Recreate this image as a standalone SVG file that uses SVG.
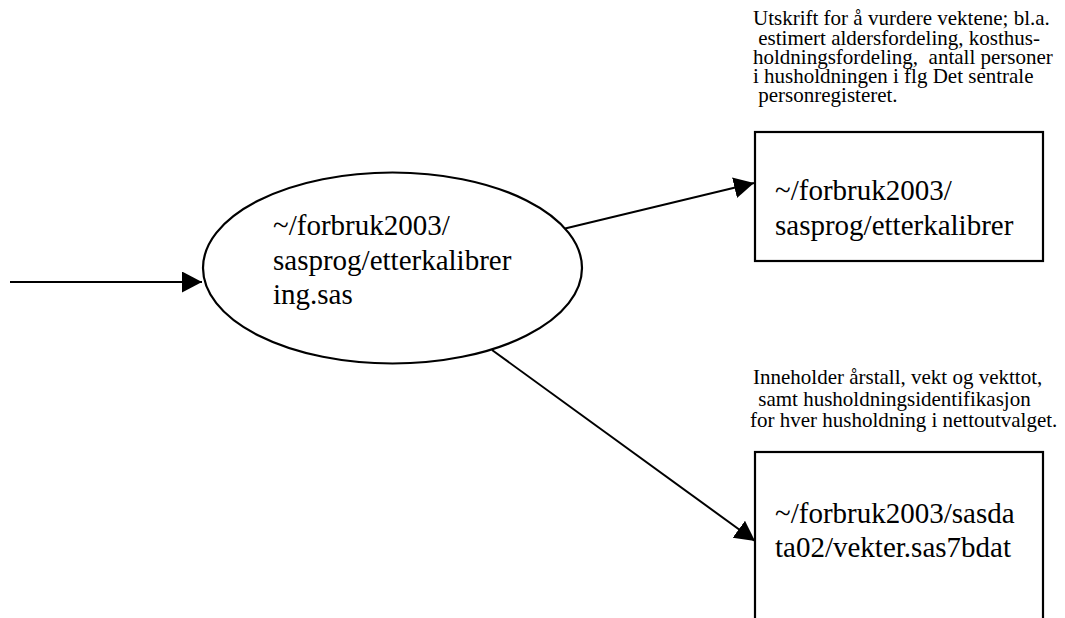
<svg xmlns="http://www.w3.org/2000/svg" width="1065" height="618" viewBox="0 0 1065 618">
  <style>
    .shape { fill: #ffffff; stroke: #000000; stroke-width: 2.2; }
    .conn { fill: none; stroke: #000000; stroke-width: 2; }
    .lbl { font-family: "Liberation Serif", "Times New Roman", serif; font-size: 29px; fill: #000000; }
    .note { font-family: "Liberation Serif", "Times New Roman", serif; font-size: 21px; fill: #000000; white-space: pre; }
  </style>
  <defs>
    <marker id="arrow" markerUnits="userSpaceOnUse" markerWidth="22" markerHeight="22" refX="20" refY="10.5" orient="auto">
      <path d="M0,0 L20,10.5 L0,21 z" fill="#000000"/>
    </marker>
  </defs>
  <rect x="0" y="0" width="1065" height="618" fill="#ffffff"/>

  <g id="connectors">
    <line class="conn" x1="10" y1="282" x2="202" y2="282" marker-end="url(#arrow)"/>
    <line class="conn" x1="563" y1="229" x2="754" y2="183" marker-end="url(#arrow)"/>
    <line class="conn" x1="492" y1="350" x2="755" y2="541" marker-end="url(#arrow)"/>
  </g>

  <g id="program">
    <ellipse class="shape" cx="392.5" cy="268" rx="189.5" ry="95.5"/>
    <text class="lbl" x="273" y="235">~/forbruk2003/</text>
    <text class="lbl" x="273" y="270">sasprog/etterkalibrer</text>
    <text class="lbl" x="273" y="304">ing.sas</text>
  </g>

  <g id="output-listing">
    <rect class="shape" x="755" y="132" width="288" height="129"/>
    <text class="lbl" x="775" y="200">~/forbruk2003/</text>
    <text class="lbl" x="775" y="235">sasprog/etterkalibrer</text>
  </g>

  <g id="note-listing">
    <text class="note" x="753" y="25">Utskrift for å vurdere vektene; bl.a.</text>
    <text class="note" x="753" y="45"> estimert aldersfordeling, kosthus-</text>
    <text class="note" x="753" y="64">holdningsfordeling,  antall personer</text>
    <text class="note" x="753" y="83">i husholdningen i flg Det sentrale</text>
    <text class="note" x="753" y="102"> personregisteret.</text>
  </g>

  <g id="output-weights">
    <rect class="shape" x="755" y="452" width="288" height="200"/>
    <text class="lbl" x="775" y="523">~/forbruk2003/sasda</text>
    <text class="lbl" x="775" y="557">ta02/vekter.sas7bdat</text>
  </g>

  <g id="note-weights">
    <text class="note" x="753" y="384">Inneholder årstall, vekt og vekttot,</text>
    <text class="note" x="753" y="406"> samt husholdningsidentifikasjon</text>
    <text class="note" x="750" y="427">for hver husholdning i nettoutvalget.</text>
  </g>
</svg>
